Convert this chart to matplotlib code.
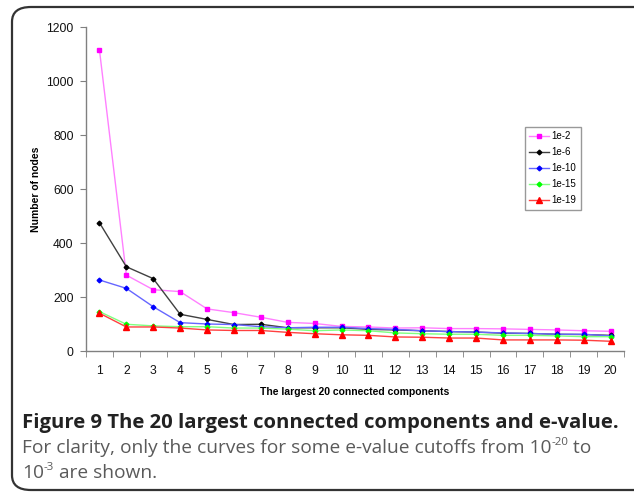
import matplotlib
matplotlib.use("Agg")
import matplotlib.pyplot as plt
from matplotlib.patches import FancyBboxPatch
import numpy as np

components = list(range(1, 21))
series_labels = ["1e-2", "1e-6", "1e-10", "1e-15", "1e-19"]
e2 = [1115, 281, 227, 220, 156, 142, 125, 106, 102, 91, 89, 85, 86, 83, 83, 82, 80, 78, 75, 73]
e6 = [475, 312, 268, 136, 117, 98, 99, 86, 86, 86, 80, 78, 75, 72, 70, 66, 65, 62, 61, 58]
e10 = [263, 232, 164, 105, 100, 98, 90, 86, 88, 88, 83, 80, 75, 72, 70, 67, 65, 62, 62, 56]
e15 = [146, 99, 93, 90, 90, 85, 85, 81, 75, 78, 75, 67, 64, 62, 62, 58, 58, 56, 53, 53]
e19 = [140, 89, 89, 85, 78, 76, 76, 69, 64, 60, 58, 52, 51, 48, 48, 41, 41, 41, 40, 36]
y_ticks = [0, 200, 400, 600, 800, 1000, 1200]

W, H = 634, 492
fig = plt.figure(figsize=(W / 100, H / 100), dpi=100)

# rounded frame
frame = FancyBboxPatch((12 / W, 2 / H), (660 - 12) / W, (485 - 2) / H,
                       boxstyle="round,pad=0,rounding_size=0.03",
                       transform=fig.transFigure, fill=False,
                       edgecolor="#333333", linewidth=1.6, clip_on=False)
fig.patches.append(frame)

ax_l, ax_r, ax_b, ax_t = 86, 624, 351, 27
ax = fig.add_axes([ax_l / W, (H - ax_b) / H, (ax_r - ax_l) / W, (ax_b - ax_t) / H])

font = "Liberation Sans"
styles = [
    (e2, "#FF00FF", "#FF80FF", "s", 3.5),
    (e6, "#000000", "#404040", "D", 2.4),
    (e10, "#0000FF", "#6666FF", "D", 2.4),
    (e15, "#00FF00", "#80FF80", "D", 2.4),
    (e19, "#FF0000", "#FF4040", "^", 3.8),
]
for (vals, mc, lc, mk, ms), lab in zip(styles, series_labels):
    ax.plot(components, vals, color=lc, linewidth=1.0, marker=mk, markersize=ms,
            markerfacecolor=mc, markeredgecolor=mc, label=lab)

ax.set_xlim(0.5, 20.5)
ax.set_ylim(0, 1200)
ax.set_yticks(y_ticks)
ax.set_xticks(components)
ax.set_xticks(np.arange(0.5, 21, 1), minor=True)
ax.tick_params(axis="x", which="major", length=0, pad=10)
ax.tick_params(axis="x", which="minor", length=4, direction="out", color="#808080")
ax.tick_params(axis="y", length=4, direction="out", color="#808080", pad=5)
for lab in ax.get_xticklabels() + ax.get_yticklabels():
    lab.set_fontfamily(font)
    lab.set_fontsize(8.7)
    lab.set_color("#111111")
for s in ["top", "right"]:
    ax.spines[s].set_visible(False)
for s in ["left", "bottom"]:
    ax.spines[s].set_color("#808080")
    ax.spines[s].set_linewidth(1.0)

ax.set_xlabel("The largest 20 connected components", fontfamily=font,
              fontweight="bold", fontsize=7.5, labelpad=7)
ax.set_ylabel("Number of nodes", fontfamily=font, fontweight="bold",
              fontsize=7.5, labelpad=4)

leg = ax.legend(loc="upper left", bbox_to_anchor=((525 - ax_l) / (ax_r - ax_l), (ax_b - 127) / (ax_b - ax_t)),
                prop={"family": font, "size": 7}, frameon=True, fancybox=False,
                edgecolor="#808080", handlelength=2.0, borderpad=0.45,
                labelspacing=0.62, handletextpad=0.3, borderaxespad=0)
leg.get_frame().set_linewidth(1.0)

cap_font = "Open Sans"
cap_size = 14.6
body_size = 13.8
fig.text(22 / W, 1 - 423 / H, "Figure 9 The 20 largest connected components and e-value.",
         fontfamily=cap_font, fontweight="bold", fontsize=cap_size, color="#222222",
         va="center", ha="left")
body = "#5a5a5a"
t1 = fig.text(22 / W, 1 - 448 / H,
              "For clarity, only the curves for some e-value cutoffs from 10",
              fontfamily=cap_font, fontsize=body_size, color=body, va="center", ha="left")
s1 = fig.text(0, 0, "-20", fontfamily=cap_font, fontsize=body_size * 0.6, color=body,
              va="bottom", ha="left")
t1b = fig.text(0, 0, " to", fontfamily=cap_font, fontsize=body_size, color=body,
               va="center", ha="left")
t2 = fig.text(22 / W, 1 - 473 / H, "10", fontfamily=cap_font, fontsize=body_size,
              color=body, va="center", ha="left")

fig.canvas.draw()
r = fig.canvas.get_renderer()
bb1 = t1.get_window_extent(r)
s1.set_position((bb1.x1 / W, (bb1.y1 - 9) / H))
bbs = s1.get_window_extent(r)
t1b.set_position((bbs.x1 / W, 1 - 448 / H))
bb2 = t2.get_window_extent(r)
s2t = fig.text(bb2.x1 / W, (bb2.y1 - 9) / H, "-3", fontfamily=cap_font,
               fontsize=body_size * 0.6, color=body, va="bottom", ha="left")
fig.canvas.draw()
s2 = s2t.get_window_extent(r)
fig.text(s2.x1 / W, 1 - 473 / H, " are shown.", fontfamily=cap_font, fontsize=body_size,
         color=body, va="center", ha="left")

fig.savefig("out.png", dpi=100)
